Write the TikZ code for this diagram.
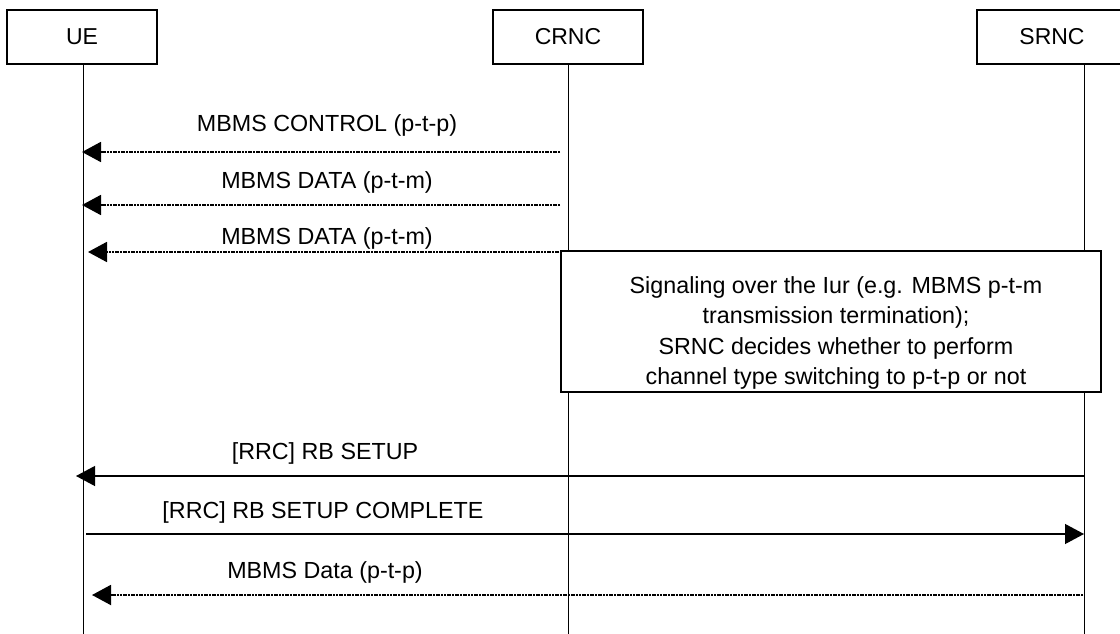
\documentclass[tikz,border=0pt]{standalone}
\usepackage{fontspec}
\setmainfont{Liberation Sans}
\usetikzlibrary{arrows.meta}
\begin{document}
\begin{tikzpicture}[x=1pt,y=-1pt,
  entity/.style={draw,line width=1.1pt,minimum width=150pt,minimum height=54pt,inner sep=0pt,font=\fontsize{23}{28}\selectfont,fill=white},
  life/.style={line width=1pt},
  msglabel/.style={font=\fontsize{23.3}{28}\selectfont,inner sep=0pt},
  dotmsg/.style={line width=1.9pt,dash pattern=on 2pt off 0.7pt,-{Triangle[length=19pt,width=20pt]}},
  solidmsg/.style={line width=1.2pt,-{Triangle[length=19pt,width=20pt]}},
  notebox/.style={draw,line width=1.1pt,fill=white,minimum width=540pt,minimum height=141pt,inner sep=0pt},
  notetext/.style={align=center,inner sep=0pt,font=\fontsize{23.3}{30.4}\selectfont},
]
\useasboundingbox (0,0) rectangle (1120,634);
% lifelines
\coordinate (ueTop) at (83,64);   \coordinate (ueBot) at (83,634);
\coordinate (crTop) at (568,64);  \coordinate (crBot) at (568,634);
\coordinate (srTop) at (1084,64); \coordinate (srBot) at (1084,634);
\draw[life] (ueTop) -- (ueBot);
\draw[life] (crTop) -- (crBot);
\draw[life] (srTop) -- (srBot);
% entity boxes
\node[entity] (ue) at (82,37) {UE};
\node[entity] (crnc) at (568,37) {CRNC};
\node[entity] (srnc) at (1052,37) {SRNC};
% messages CRNC -> UE
\coordinate (m1s) at (560,152); \coordinate (m1e) at (82,152);
\coordinate (m2s) at (560,205); \coordinate (m2e) at (82,205);
\coordinate (m3s) at (562,252); \coordinate (m3e) at (88,252);
\draw[dotmsg] (m1s) -- (m1e);
\draw[dotmsg] (m2s) -- (m2e);
\draw[dotmsg] (m3s) -- (m3e);
\node[msglabel] (l1) at (327,125) {MBMS CONTROL (p-t-p)};
\node[msglabel] (l2) at (327,182) {MBMS DATA (p-t-m)};
\node[msglabel] (l3) at (327,238) {MBMS DATA (p-t-m)};
% note box
\node[notebox] (note) at (831,321.5) {};
\node[notetext] (notet) at (836,333) {Signaling over the Iur (e.g. MBMS p-t-m\\transmission termination);\\SRNC decides whether to perform\\channel type switching to p-t-p or not};
% RRC messages
\coordinate (m4s) at (1084,476); \coordinate (m4e) at (76,476);
\coordinate (m5s) at (86,534);   \coordinate (m5e) at (1084,534);
\coordinate (m6s) at (1083,595); \coordinate (m6e) at (92,595);
\draw[solidmsg] (m4s) -- (m4e);
\draw[solidmsg] (m5s) -- (m5e);
\draw[dotmsg] (m6s) -- (m6e);
\node[msglabel] (l4) at (325,453) {[RRC] RB SETUP};
\node[msglabel] (l5) at (323,512) {[RRC] RB SETUP COMPLETE};
\node[msglabel] (l6) at (325,572) {MBMS Data (p-t-p)};
\end{tikzpicture}
\end{document}
